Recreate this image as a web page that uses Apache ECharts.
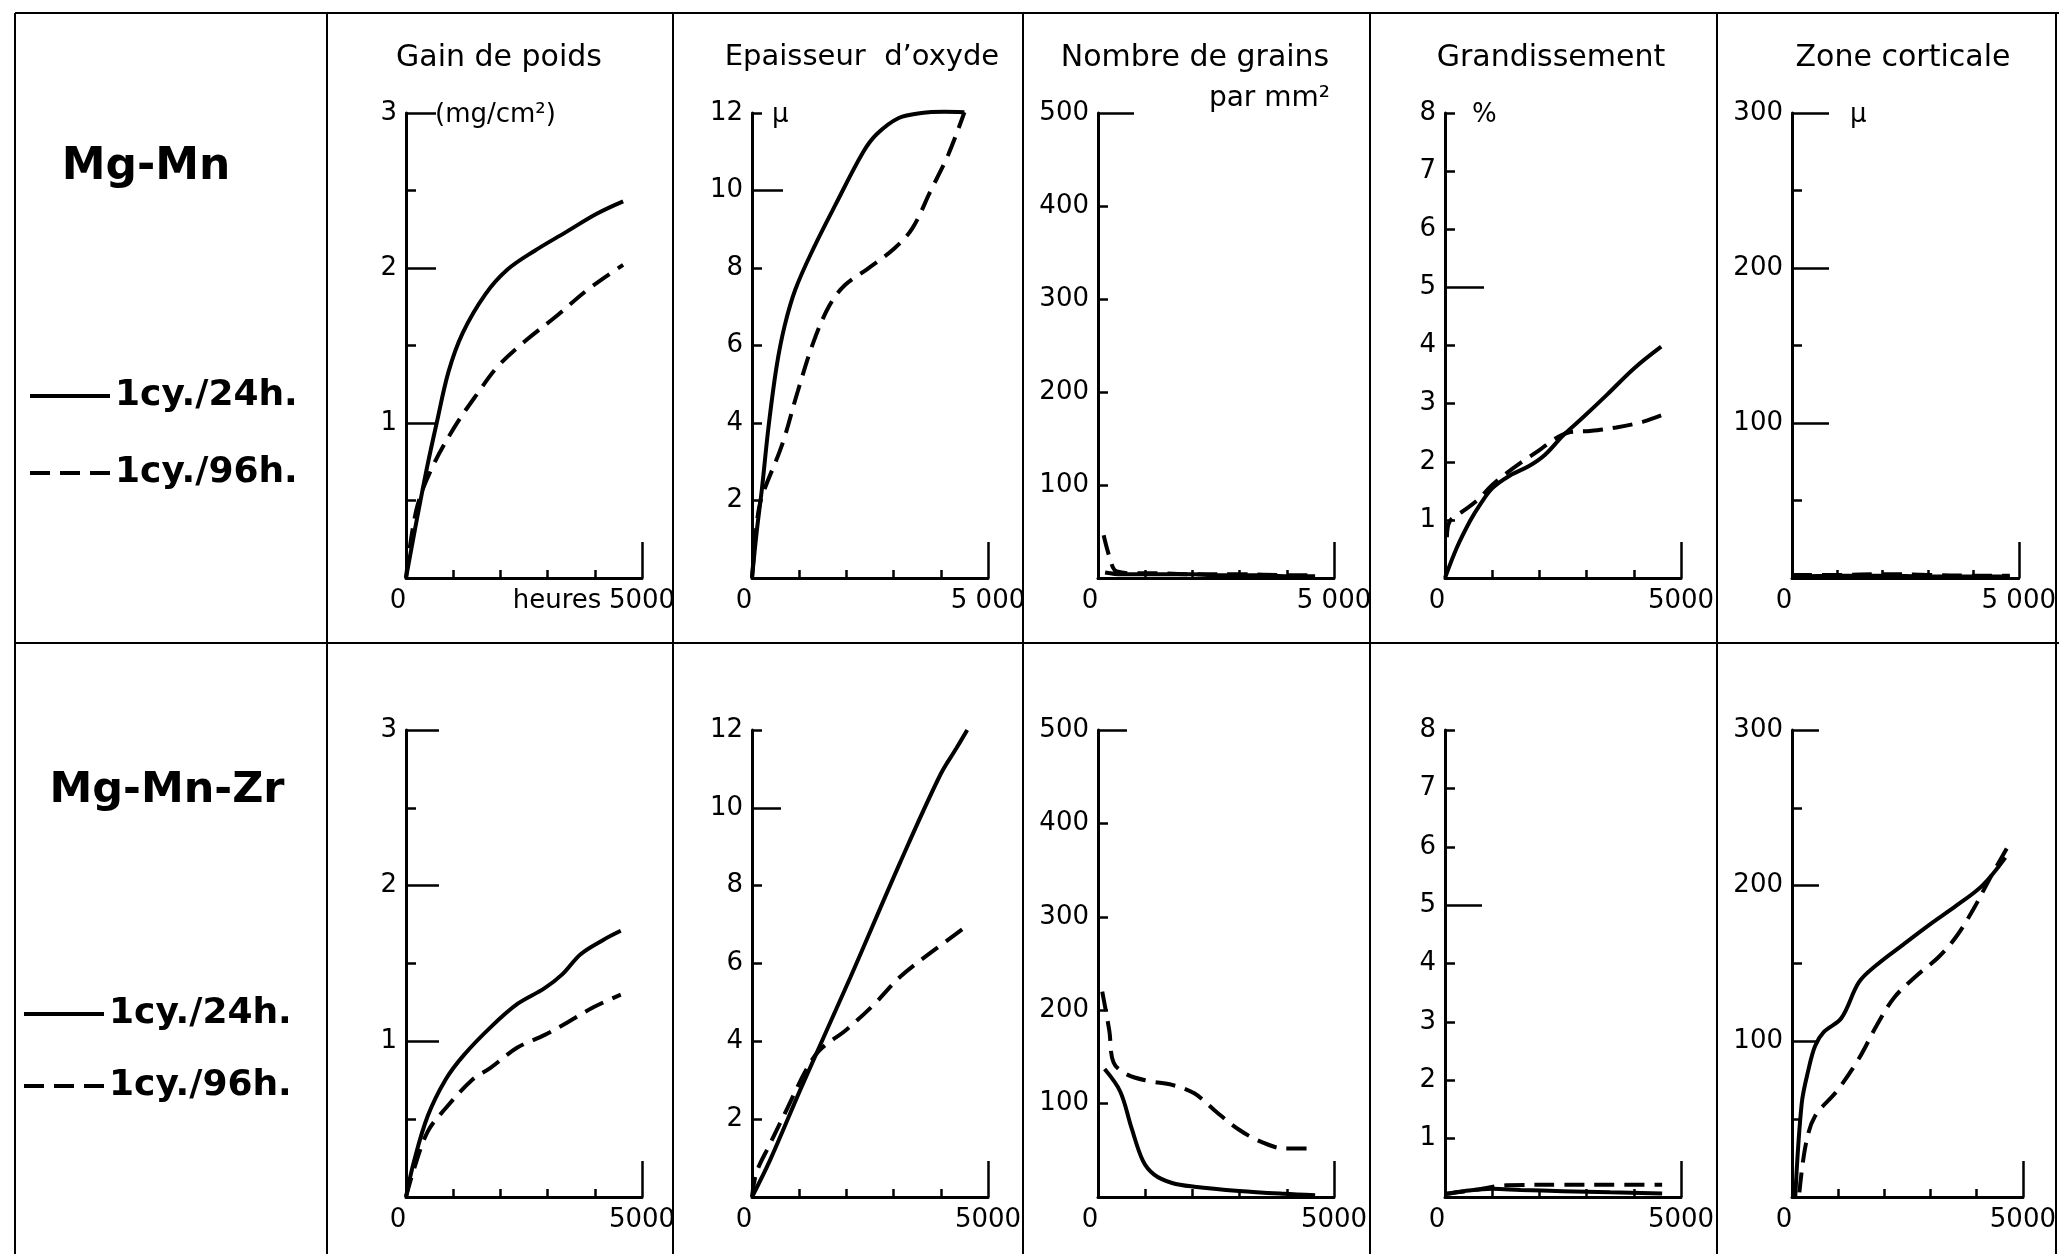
<!DOCTYPE html>
<html><head><meta charset="utf-8">
<script src="https://cdn.jsdelivr.net/npm/echarts@6/dist/echarts.min.js"></script>
<style>html,body{margin:0;padding:0;background:#fff}#c{width:2059px;height:1254px}</style>
</head><body><div id="c"></div>
<script>
// ---------- data (hours, value) ----------
const rowNames = ['Mg-Mn', 'Mg-Mn-Zr'];
const seriesNames = ['1cy./24h.', '1cy./96h.'];
const panelTitles = ['Gain de poids', 'Epaisseur  d\u2019oxyde', 'Nombre de grains', 'Grandissement', 'Zone corticale'];
const subTitle3 = 'par mm\u00b2';
const unitNames = ['(mg/cm\u00b2)', '\u03bc', '', '%', '\u03bc'];
const yMax = [3, 12, 500, 8, 300];
const yLabelValues = [[1, 2, 3], [2, 4, 6, 8, 10, 12], [100, 200, 300, 400, 500], [1, 2, 3, 4, 5, 6, 7, 8], [100, 200, 300]];
const yShortTicks = [[0.5, 1.5, 2.5], [2, 4, 6, 8, 12], [100, 200, 300, 400], [1, 2, 3, 4, 6, 7, 8], [50, 150, 250]];
const yLongTicks = [[1, 2, 3], [10], [500], [5], [100, 200, 300]];
const hourTicks = [1000, 2000, 3000, 4000];
const xEndLabelsRow1 = ['5000', '5 000', '5 000', '5000', '5 000'];
const xEndLabelsRow2 = ['5000', '5000', '5000', '5000', '5000'];
const xAxisName = 'heures';

// Row 1 : Mg-Mn
const gainMn24 = [[0,0],[200,0.33],[450,0.72],[650,1.0],[900,1.33],[1200,1.58],[1680,1.83],[2150,1.99],[2720,2.11],[3380,2.23],[4040,2.35],[4600,2.43]];
const gainMn96 = [[0,0],[220,0.44],[550,0.71],[1020,0.97],[1490,1.18],[1960,1.37],[2530,1.53],[3190,1.69],[3850,1.86],[4600,2.02]];
const oxydeMn24 = [[0,0],[100,1.2],[210,2.3],[350,3.9],[520,5.45],[690,6.5],[920,7.45],[1300,8.5],[1780,9.66],[2350,10.98],[2640,11.45],[3110,11.87],[3590,12.0],[4070,12.03],[4500,12.02]];
const oxydeMn96 = [[0,0],[110,1.5],[210,2.1],[640,3.45],[970,4.82],[1300,6.08],[1640,7.03],[1970,7.56],[2450,7.98],[3020,8.51],[3400,9.03],[3780,9.98],[4160,10.93],[4500,12.02]];
const grainsMn24 = [[150,6],[500,4],[1000,4],[1500,4],[2000,4],[2500,3],[3000,3],[3500,3],[4000,2],[4600,2]];
const grainsMn96 = [[120,46],[200,30],[320,11],[400,7],[700,5],[1200,5],[2000,4],[3000,4],[4000,3],[4600,3]];
const grandMn24 = [[0,0],[250,0.52],[530,0.98],[740,1.26],[1010,1.55],[1370,1.76],[1790,1.93],[2120,2.12],[2500,2.45],[2880,2.73],[3440,3.16],[4010,3.61],[4580,3.98]];
const grandMn96 = [[40,0.7],[105,0.98],[380,1.15],[675,1.33],[1000,1.6],[1300,1.8],[1600,1.98],[2000,2.2],[2300,2.38],[2600,2.5],[3070,2.53],[3630,2.59],[4200,2.69],[4620,2.81]];
const corticMn24 = [[0,1],[1000,1.5],[2000,1.5],[3000,1],[4000,1],[4800,1]];
const corticMn96 = [[0,2],[1000,2],[2000,2.5],[3000,2],[4000,1.5],[4800,1.5]];

// Row 2 : Mg-Mn-Zr
const gainZr24 = [[0,0],[170,0.23],[460,0.52],[840,0.755],[1220,0.91],[1790,1.09],[2360,1.24],[2930,1.34],[3310,1.43],[3700,1.56],[4170,1.65],[4550,1.71]];
const gainZr96 = [[0,0],[170,0.18],[460,0.42],[840,0.57],[1410,0.755],[1790,0.83],[2360,0.96],[2930,1.04],[3410,1.12],[3980,1.22],[4550,1.3]];
const oxydeZr24 = [[0,0],[380,0.94],[1050,2.83],[2090,5.66],[3140,8.6],[3990,10.85],[4330,11.53],[4560,12.0]];
const oxydeZr96 = [[0,0],[95,0.63],[380,1.36],[760,2.31],[1140,3.25],[1430,3.77],[2000,4.3],[2570,4.93],[3140,5.66],[3800,6.29],[4560,6.97]];
const grainsZr24 = [[140,137],[470,113],[710,74],[950,39],[1190,24],[1570,15],[2040,11],[2990,6.5],[3940,3.5],[4600,2]];
const grainsZr96 = [[90,220],[240,178],[330,144],[620,131],[1090,124],[1570,120],[2040,111],[2510,91],[2990,72],[3460,59],[3940,52],[4550,52]];
const grandZr24 = [[0,0.05],[400,0.1],[1000,0.14],[1600,0.12],[2500,0.1],[3500,0.08],[4600,0.06]];
const grandZr96 = [[0,0.05],[700,0.13],[1300,0.2],[2500,0.21],[3500,0.21],[4600,0.21]];
const corticZr24 = [[70,0],[210,60],[350,81],[500,97],[690,106],[1070,115],[1450,138],[1830,149],[2400,162],[2980,175],[3550,187],[4120,200],[4620,218]];
const corticZr96 = [[160,3],[300,34],[500,52],[970,68],[1450,89],[1830,110],[2210,128],[2690,142],[3170,154],[3550,167],[3930,185],[4310,206],[4710,227]];

const rowData = [
  [[gainMn24, gainMn96], [oxydeMn24, oxydeMn96], [grainsMn24, grainsMn96], [grandMn24, grandMn96], [corticMn24, corticMn96]],
  [[gainZr24, gainZr96], [oxydeZr24, oxydeZr96], [grainsZr24, grainsZr96], [grandZr24, grandZr96], [corticZr24, corticZr96]]
];

// ---------- layout ----------
const FONT = 'DejaVu Sans';
const gridLeft = [406, 752, 1098, 1445, 1792];
const gridW = 236;
const rowTop = [113, 730];
const rowH = [465, 467];
const longLen = [[30, 31, 36, 39, 37], [33, 29, 29, 37, 27]];
const unitPad = [29, 20, 0, 27, 58];
const xEndLabels = [xEndLabelsRow1, xEndLabelsRow2];
const black = '#000';

const grids = [], xAxes = [], yAxes = [], series = [];
for (let r = 0; r < 2; r++) {
  for (let p = 0; p < 5; p++) {
    const gi = grids.length;
    grids.push({left: gridLeft[p], top: rowTop[r], width: gridW, height: rowH[r], containLabel: false});
    const endLab = xEndLabels[r][p];
    xAxes.push({
      type: 'value', gridIndex: gi, position: 'bottom', min: 0, max: 5000, interval: 1000,
      axisLine: {show: true, onZero: false, lineStyle: {color: black, width: 3}},
      axisTick: {show: true, inside: true, length: 8, lineStyle: {color: black, width: 2.5}, customValues: hourTicks},
      axisLabel: {show: true, customValues: [0, 5000], formatter: v => (v === 0 ? '{z|0}' : endLab),
        color: black, fontFamily: FONT, fontSize: 26, margin: 10,
        rich: {z: {fontFamily: FONT, fontSize: 26, color: black, padding: [0, 16, 0, 0]}}},
      splitLine: {show: false},
      name: (r === 0 && p === 0) ? xAxisName : '', nameLocation: 'middle', nameGap: 10, nameMoveOverlap: false,
      nameTextStyle: {color: black, fontFamily: FONT, fontSize: 26, padding: [0, 0, 0, 66], verticalAlign: 'top'}
    });
    xAxes.push({
      type: 'value', gridIndex: gi, position: 'bottom', min: 0, max: 5000, interval: 1000,
      axisLine: {show: false, onZero: false},
      axisTick: {show: true, inside: true, length: 36, lineStyle: {color: black, width: 2.5}, customValues: [5000]},
      axisLabel: {show: false}, splitLine: {show: false}
    });
    yAxes.push({
      type: 'value', gridIndex: gi, position: 'left', min: 0, max: yMax[p], interval: yMax[p] / 2,
      axisLine: {show: true, onZero: false, lineStyle: {color: black, width: 3}},
      axisTick: {show: true, inside: true, length: 10, lineStyle: {color: black, width: 2.5}, customValues: yShortTicks[p]},
      axisLabel: {show: true, customValues: yLabelValues[p], color: black, fontFamily: FONT, fontSize: 26, margin: 9},
      splitLine: {show: false},
      name: r === 0 ? unitNames[p] : '', nameLocation: 'end', nameGap: -2, nameMoveOverlap: false,
      nameTextStyle: {color: black, fontFamily: FONT, fontSize: 26, align: 'left', verticalAlign: 'middle', padding: [0, 0, 0, unitPad[p]]}
    });
    yAxes.push({
      type: 'value', gridIndex: gi, position: 'left', min: 0, max: yMax[p], interval: yMax[p] / 2,
      axisLine: {show: false, onZero: false},
      axisTick: {show: true, inside: true, length: longLen[r][p], lineStyle: {color: black, width: 2.5}, customValues: yLongTicks[p]},
      axisLabel: {show: false}, splitLine: {show: false}
    });
    const d = rowData[r][p];
    series.push({type: 'line', name: seriesNames[0], xAxisIndex: 2 * gi, yAxisIndex: 2 * gi, data: d[0],
      smooth: 0.35, symbol: 'none', clip: false, lineStyle: {color: black, width: 4}, itemStyle: {color: black}, z: 3});
    series.push({type: 'line', name: seriesNames[1], xAxisIndex: 2 * gi, yAxisIndex: 2 * gi, data: d[1],
      smooth: 0.35, symbol: 'none', clip: false, lineStyle: {color: black, width: 4, type: [20, 10]}, itemStyle: {color: black}, z: 3});
  }
}

const titleCenters = [499, 862, 1195, 1551, 1903];
const titles = panelTitles.map((t, i) => ({text: t, left: titleCenters[i], top: 43, textAlign: 'center', padding: 0,
  textStyle: {color: black, fontFamily: FONT, fontSize: 30, fontWeight: 'normal'}}));
titles[1].textStyle.fontSize = 29;
titles.push({text: subTitle3, left: 1330, top: 85, textAlign: 'right', padding: 0,
  textStyle: {color: black, fontFamily: FONT, fontSize: 28, fontWeight: 'normal'}});
titles.push({text: rowNames[0], left: 146, top: 146, textAlign: 'center', padding: 0,
  textStyle: {color: black, fontFamily: FONT, fontSize: 44, fontWeight: 'bold'}});
titles.push({text: rowNames[1], left: 167, top: 769, textAlign: 'center', padding: 0,
  textStyle: {color: black, fontFamily: FONT, fontSize: 43, fontWeight: 'bold'}});

const legendBase = {orient: 'vertical', data: seriesNames, itemWidth: 80, itemHeight: 14, padding: 0,
  selectedMode: false, itemStyle: {opacity: 0, borderWidth: 0}, lineStyle: {width: 4},
  textStyle: {color: black, fontFamily: FONT, fontSize: 36, fontWeight: 'bold', lineHeight: 40}};
const legends = [
  Object.assign({}, legendBase, {left: 28, top: 376, itemGap: 37}),
  Object.assign({}, legendBase, {left: 22, top: 994, itemGap: 32})
];

// table frame
const frameV = [15, 327, 673, 1023, 1370, 1717, 2056];
const frameH = [13, 643];
const graphic = [];
frameV.forEach(x => graphic.push({type: 'line', shape: {x1: x, y1: 13, x2: x, y2: 1254}, style: {stroke: black, lineWidth: 2}}));
frameH.forEach(y => graphic.push({type: 'line', shape: {x1: 15, y1: y, x2: 2059, y2: y}, style: {stroke: black, lineWidth: 2}}));

const chart = echarts.init(document.getElementById('c'), null, {renderer: 'canvas'});
chart.setOption({
  backgroundColor: '#fff',
  animation: false,
  title: titles,
  legend: legends,
  grid: grids,
  xAxis: xAxes,
  yAxis: yAxes,
  series: series,
  graphic: graphic
});
</script></body></html>
